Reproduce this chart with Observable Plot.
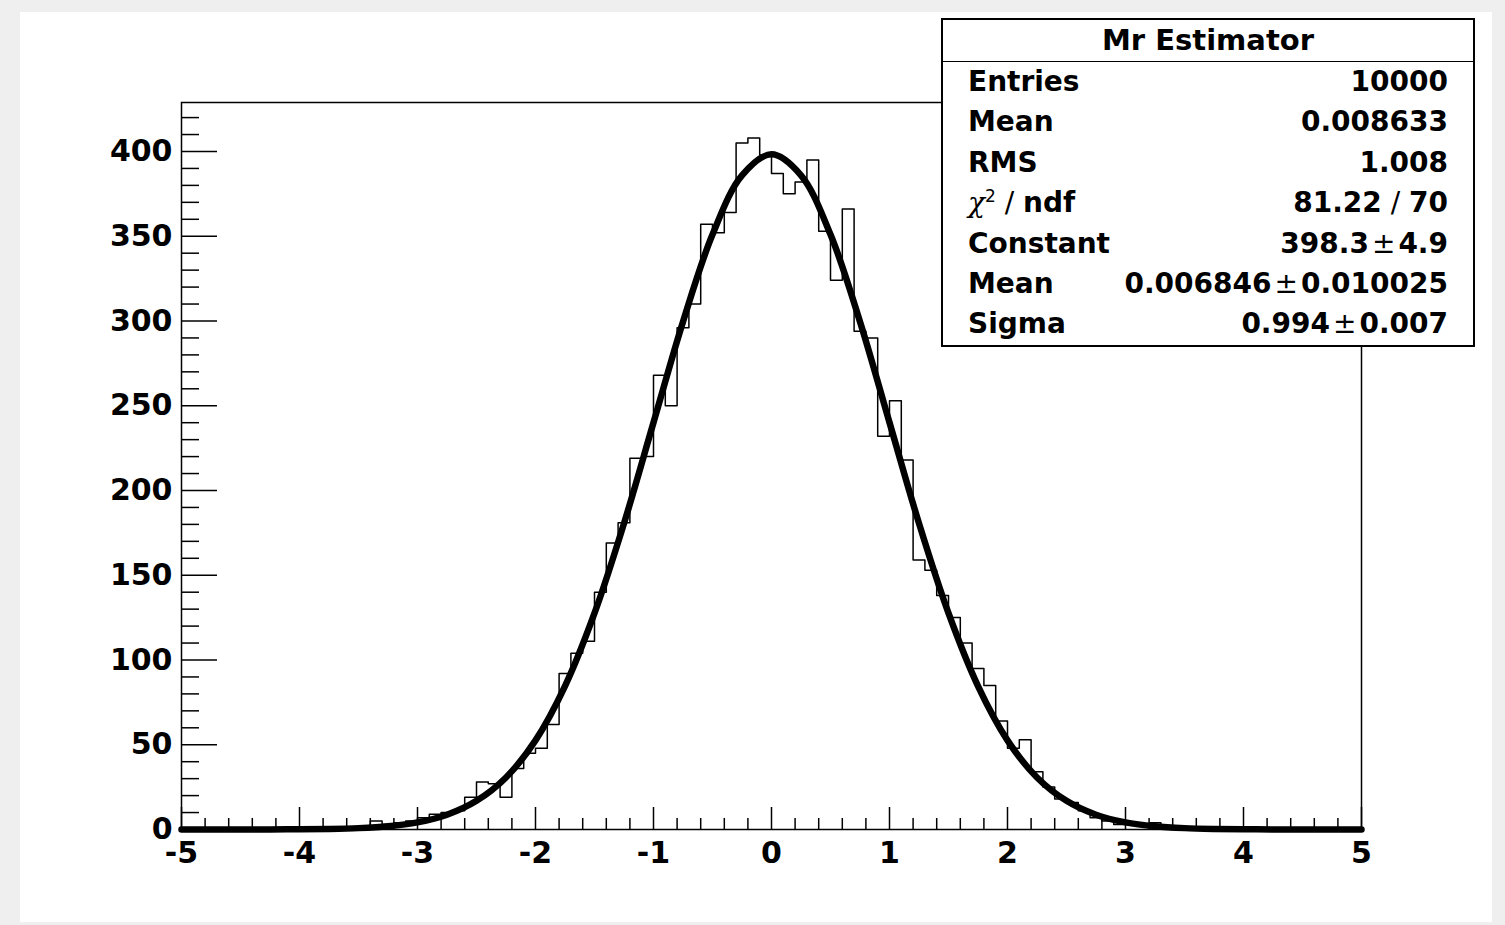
<!DOCTYPE html>
<html>
<head>
<meta charset="utf-8">
<script src="https://cdn.jsdelivr.net/npm/d3@7"></script>
<script src="https://cdn.jsdelivr.net/npm/@observablehq/plot@0.6"></script>
<style>
  html, body { margin: 0; padding: 0; background: #efefef; overflow: hidden; }
  #page { position: relative; width: 1505px; height: 925px; overflow: hidden; }
  #canvas { position: absolute; left: 20px; top: 12px; width: 1472px; height: 910px; background: #ffffff; }
  #chart { position: absolute; left: 0; top: 0; }
  #stats {
    position: absolute; left: 941px; top: 18px; width: 534px; height: 329px;
    box-sizing: border-box; border: 2px solid #000; background: #fff;
    font-family: "DejaVu Sans", sans-serif; font-weight: bold; font-size: 28px; color: #000;
    z-index: 5;
  }
  #stats .title { height: 41px; line-height: 41px; text-align: center; border-bottom: 1.5px solid #000; font-size: 29px; }
  #stats .row { position: relative; height: 40.4px; line-height: 40.4px; }
  #stats .row .k { position: absolute; left: 25px; }
  #stats .row .v { position: absolute; right: 25px; }
  #stats .pm { font-weight: normal; margin: 0 3px; }
  #stats .sl { font-weight: normal; }
  #stats .chi { font-weight: normal; font-style: italic; font-family: "DejaVu Serif", serif; }
  #stats sup { font-size: 17px; line-height: 0; font-weight: normal; }
</style>
</head>
<body>
<div id="page">
  <div id="canvas"></div>
  <div id="chart"></div>
  <div id="stats"></div>
</div>
<script>
// ---- Data ----
const binLow = -5;          // lower edge of the histogram
const binWidth = 0.1;       // 100 bins from -5 to 5
const counts = [
  0, 0, 0, 0, 0, 0, 0, 0, 0, 0,            // -5.0 .. -4.0
  0, 0, 1, 0, 1, 2, 5, 3, 4, 5,            // -4.0 .. -3.0
  7, 9, 10, 11, 19, 28, 27, 19, 36, 45,    // -3.0 .. -2.0
  48, 62, 92, 104, 111, 140, 169, 181, 219, 220, // -2.0 .. -1.0
  268, 250, 296, 310, 357, 352, 364, 405, 408, 398, // -1.0 .. 0.0
  387, 375, 382, 395, 353, 324, 366, 294, 290, 232, // 0.0 .. 1.0
  253, 218, 159, 153, 138, 125, 110, 95, 85, 64,    // 1.0 .. 2.0
  48, 53, 34, 25, 18, 16, 11, 7, 5, 3,              // 2.0 .. 3.0
  3, 2, 4, 1, 1, 1, 0, 1, 0, 0,                     // 3.0 .. 4.0
  0, 0, 0, 0, 0, 0, 0, 0, 0, 0                      // 4.0 .. 5.0
];

// Fitted gaussian curve
const fitX = [-5, -4.75, -4.5, -4.25, -4, -3.75, -3.5, -3.25, -3, -2.75, -2.5, -2.25, -2, -1.75, -1.5, -1.25, -1, -0.75, -0.5, -0.25,
              0, 0.25, 0.5, 0.75, 1, 1.25, 1.5, 1.75, 2, 2.25, 2.5, 2.75, 3, 3.25, 3.5, 3.75, 4, 4.25, 4.5, 4.75, 5];
const fitY = [0, 0, 0.01, 0.04, 0.12, 0.32, 0.81, 1.9, 4.2, 8.7, 16.9, 30.7, 52.6, 84.6, 127.6, 180.6, 240.1, 299.6, 351.0, 385.9,
              398.3, 385.9, 351.0, 299.6, 240.1, 180.6, 127.6, 84.6, 52.6, 30.7, 16.9, 8.7, 4.2, 1.9, 0.81, 0.32, 0.12, 0.04, 0.01, 0, 0];

// Axis ticks
const xMajor = [-5, -4, -3, -2, -1, 0, 1, 2, 3, 4, 5];
const xMinor = [-4.8, -4.6, -4.4, -4.2, -3.8, -3.6, -3.4, -3.2, -2.8, -2.6, -2.4, -2.2, -1.8, -1.6, -1.4, -1.2,
                -0.8, -0.6, -0.4, -0.2, 0.2, 0.4, 0.6, 0.8, 1.2, 1.4, 1.6, 1.8, 2.2, 2.4, 2.6, 2.8,
                3.2, 3.4, 3.6, 3.8, 4.2, 4.4, 4.6, 4.8];
const yMajor = [0, 50, 100, 150, 200, 250, 300, 350, 400];
const yMinor = [10, 20, 30, 40, 60, 70, 80, 90, 110, 120, 130, 140, 160, 170, 180, 190, 210, 220, 230, 240,
                260, 270, 280, 290, 310, 320, 330, 340, 360, 370, 380, 390, 410, 420];
const yMax = 428.9;

// Stats box
const statsTitle = "Mr Estimator";
const statsRows = [
  ["Entries", "10000"],
  ["Mean", "0.008633"],
  ["RMS", "1.008"],
  ["CHI", "81.22 / 70"],
  ["Constant", "398.3 ± 4.9"],
  ["Mean", "0.006846 ± 0.010025"],
  ["Sigma", "0.994 ± 0.007"]
];

// ---- Build tables ----
const histPts = counts.map((c, i) => ({x: binLow + i * binWidth, y: c}));
histPts.push({x: binLow + counts.length * binWidth, y: counts[counts.length - 1]});
const fitPts = fitX.map((x, i) => ({x, y: fitY[i]}));
const noLabel = () => "";

const plot = Plot.plot({
  width: 1505,
  height: 925,
  marginLeft: 181,
  marginRight: 144,
  marginTop: 102,
  marginBottom: 96,
  style: {background: "transparent", fontFamily: "DejaVu Sans, sans-serif", fontSize: "30px", fontWeight: "bold", overflow: "visible", color: "#000"},
  x: {domain: [-5, 5]},
  y: {domain: [0, yMax]},
  marks: [
    Plot.line(histPts, {x: "x", y: "y", curve: "step-after", stroke: "#000", strokeWidth: 1.5}),
    Plot.line(fitPts, {x: "x", y: "y", curve: "catmull-rom", stroke: "#000", strokeWidth: 6.5}),
    Plot.frame({stroke: "#000", strokeWidth: 1.5}),
    Plot.axisY({ticks: yMajor, tickSize: 36, dx: 36, tickPadding: 9, tickFormat: d => String(d), label: null, strokeWidth: 1.5}),
    Plot.axisY({ticks: yMinor, tickSize: 18, dx: 18, tickFormat: noLabel, label: null, strokeWidth: 1.5}),
    Plot.axisX({ticks: xMajor, tickSize: 22, dy: -22, tickPadding: 12, tickFormat: d => String(d), label: null, strokeWidth: 1.5}),
    Plot.axisX({ticks: xMinor, tickSize: 11, dy: -11, tickFormat: noLabel, label: null, strokeWidth: 1.5})
  ]
});
document.getElementById("chart").appendChild(plot);

// stats box
const stats = document.getElementById("stats");
const t = document.createElement("div");
t.className = "title";
t.textContent = statsTitle;
stats.appendChild(t);
for (const [k, v] of statsRows) {
  const r = document.createElement("div");
  r.className = "row";
  const ks = document.createElement("span");
  ks.className = "k";
  if (k === "CHI") {
    ks.innerHTML = '<span class="chi">χ</span><sup>2</sup><span class="sl"> / </span>ndf';
  } else ks.textContent = k;
  const vs = document.createElement("span");
  vs.className = "v";
  vs.innerHTML = v.replace(" ± ", '<span class="pm">±</span>').replace(" / ", '<span class="sl"> / </span>');
  r.appendChild(ks); r.appendChild(vs);
  stats.appendChild(r);
}
</script>
</body>
</html>
